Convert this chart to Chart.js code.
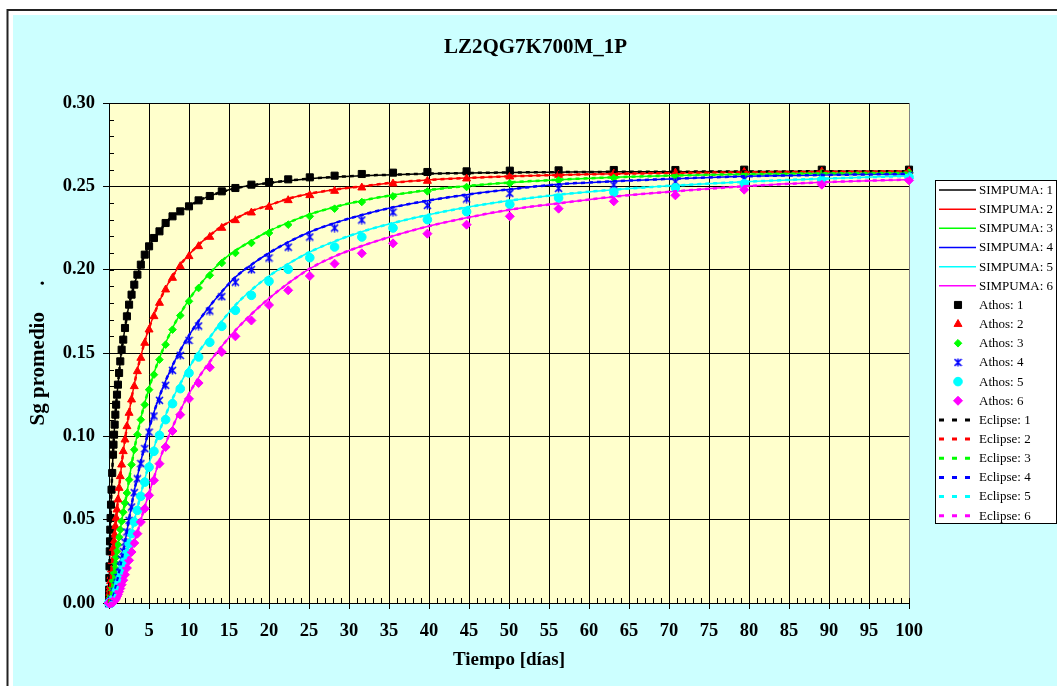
<!DOCTYPE html>
<html>
<head>
<meta charset="utf-8">
<title>LZ2QG7K700M_1P</title>
<script src="https://cdn.jsdelivr.net/npm/chart.js@4.4.1/dist/chart.umd.min.js"></script>
<style>
  html, body { margin: 0; padding: 0; background: #fff; }
  #wrap { position: relative; width: 1057px; height: 686px; }
</style>
</head>
<body>
<div id="wrap"><canvas id="chart"></canvas></div>
<script>
// Tiempo [días] - same sampling for every series
const tiempo = [0, 0.01, 0.02, 0.04, 0.063, 0.1, 0.126, 0.158, 0.2, 0.251, 0.316, 0.398, 0.501,
  0.562, 0.631, 0.708, 0.794, 0.891, 1, 1.12, 1.26, 1.41, 1.58, 1.78, 2,
  2.24, 2.51, 2.82, 3.16, 3.55, 3.98, 4.47, 5.01, 5.62, 6.31, 7.08, 7.94, 8.91, 10,
  11.2, 12.6, 14.1, 15.8, 17.8, 20, 22.4, 25.1, 28.2, 31.6, 35.5, 39.8, 44.7, 50.1, 56.2, 63.1, 70.8, 79.4, 89.1, 100];

// SIMPUMA (solid lines)
const simpuma1 = [0, 0.004, 0.008, 0.015, 0.022, 0.031, 0.037, 0.044, 0.051, 0.059, 0.068, 0.078, 0.089,
  0.095, 0.101, 0.107, 0.113, 0.119, 0.125, 0.131, 0.138, 0.145, 0.152, 0.158, 0.165,
  0.172, 0.179, 0.185, 0.191, 0.197, 0.203, 0.209, 0.214, 0.219, 0.223, 0.228, 0.232, 0.235, 0.238,
  0.2414, 0.2442, 0.2466, 0.2488, 0.2506, 0.252, 0.2534, 0.2546, 0.2556, 0.2564, 0.257, 0.2576, 0.258, 0.2583, 0.2585, 0.2587, 0.2588, 0.2589, 0.259, 0.259];
const simpuma2 = [0, 0.0003, 0.0008, 0.002, 0.0035, 0.006, 0.008, 0.01, 0.013, 0.016, 0.02, 0.025, 0.03,
  0.033, 0.037, 0.041, 0.046, 0.051, 0.056, 0.062, 0.069, 0.076, 0.083, 0.091, 0.098,
  0.106, 0.114, 0.123, 0.131, 0.14, 0.148, 0.157, 0.165, 0.173, 0.181, 0.189, 0.196, 0.203, 0.209,
  0.215, 0.2206, 0.226, 0.2306, 0.2352, 0.2386, 0.2426, 0.2456, 0.248, 0.25, 0.2522, 0.2538, 0.255, 0.256, 0.2568, 0.2575, 0.258, 0.2584, 0.2587, 0.2589];
const simpuma3 = [0, 0.00005, 0.0001, 0.0003, 0.0006, 0.0012, 0.0017, 0.0024, 0.0034, 0.0048, 0.0068, 0.0095, 0.0132,
  0.0155, 0.018, 0.021, 0.024, 0.0275, 0.031, 0.035, 0.0395, 0.044, 0.049, 0.0545, 0.06,
  0.066, 0.074, 0.083, 0.092, 0.1015, 0.1108, 0.12, 0.129, 0.138, 0.147, 0.156, 0.165, 0.1735, 0.182,
  0.19, 0.1978, 0.2052, 0.2114, 0.2173, 0.2232, 0.2282, 0.2332, 0.2376, 0.2414, 0.2448, 0.2477, 0.2502, 0.2523, 0.254, 0.2554, 0.2565, 0.2573, 0.2578, 0.2581];
const simpuma4 = [0, 0, 0, 0.00005, 0.0001, 0.0002, 0.0003, 0.0004, 0.0006, 0.001, 0.0015, 0.0024, 0.0037,
  0.0046, 0.0057, 0.007, 0.0086, 0.0105, 0.0127, 0.0153, 0.0184, 0.022, 0.0262, 0.031, 0.0365,
  0.0432, 0.0504, 0.0586, 0.0673, 0.0758, 0.085, 0.0942, 0.1045, 0.1144, 0.124, 0.1333, 0.1425, 0.1516, 0.1606,
  0.1692, 0.1782, 0.1868, 0.1955, 0.203, 0.21, 0.2165, 0.2226, 0.228, 0.2328, 0.2374, 0.2414, 0.245, 0.2482, 0.2512, 0.253, 0.2546, 0.256, 0.2568, 0.2574];
const simpuma5 = [0, 0, 0, 0, 0, 0, 0.0001, 0.0001, 0.0002, 0.0004, 0.0006, 0.0011, 0.0019,
  0.0025, 0.0032, 0.0041, 0.0052, 0.0065, 0.0081, 0.01, 0.0123, 0.015, 0.018, 0.0215, 0.0255,
  0.0305, 0.0363, 0.0425, 0.0496, 0.0568, 0.0655, 0.0742, 0.0835, 0.0932, 0.1031, 0.1127, 0.1225, 0.1316, 0.141,
  0.1506, 0.1594, 0.169, 0.1787, 0.1878, 0.1962, 0.2035, 0.2106, 0.217, 0.2228, 0.228, 0.2328, 0.2374, 0.2415, 0.245, 0.248, 0.2505, 0.2527, 0.2546, 0.2562];
const simpuma6 = [0, 0, 0, 0, 0, 0, 0, 0, 0, 0.0001, 0.0002, 0.0003, 0.0006,
  0.0008, 0.0012, 0.0016, 0.0022, 0.003, 0.004, 0.0052, 0.0068, 0.0087, 0.011, 0.0137, 0.017,
  0.021, 0.0258, 0.031, 0.0365, 0.0424, 0.0496, 0.0578, 0.0658, 0.0752, 0.0856, 0.0956, 0.1055, 0.1156, 0.1255,
  0.1352, 0.1448, 0.1541, 0.1636, 0.1733, 0.1828, 0.1918, 0.2006, 0.208, 0.2142, 0.2202, 0.2259, 0.2311, 0.236, 0.2398, 0.2438, 0.247, 0.25, 0.2524, 0.2541];

// Athos (markers)
const athos1 = [0, 0.004, 0.008, 0.015, 0.022, 0.031, 0.037, 0.044, 0.051, 0.059, 0.068, 0.078, 0.089,
  0.095, 0.101, 0.107, 0.113, 0.119, 0.125, 0.131, 0.138, 0.145, 0.152, 0.158, 0.165,
  0.172, 0.179, 0.185, 0.191, 0.197, 0.203, 0.209, 0.214, 0.219, 0.223, 0.228, 0.232, 0.235, 0.238,
  0.2416, 0.2442, 0.247, 0.249, 0.251, 0.2526, 0.2542, 0.2554, 0.2564, 0.2574, 0.2582, 0.2586, 0.259, 0.2594, 0.2596, 0.2598, 0.2598, 0.26, 0.26, 0.26];
const athos2 = [0, 0.0003, 0.0008, 0.002, 0.0035, 0.006, 0.008, 0.01, 0.013, 0.016, 0.02, 0.025, 0.03,
  0.033, 0.037, 0.041, 0.046, 0.051, 0.056, 0.062, 0.069, 0.076, 0.083, 0.091, 0.098,
  0.106, 0.114, 0.122, 0.13, 0.139, 0.147, 0.156, 0.164, 0.172, 0.18, 0.188, 0.195, 0.202, 0.208,
  0.214, 0.2196, 0.225, 0.2296, 0.2342, 0.2376, 0.2416, 0.2446, 0.2472, 0.2492, 0.2516, 0.2532, 0.2546, 0.2558, 0.2568, 0.2576, 0.2582, 0.2586, 0.2588, 0.259];
const athos3 = [0, 0.00005, 0.0001, 0.0003, 0.0006, 0.0012, 0.0017, 0.0024, 0.0034, 0.0048, 0.0068, 0.0095, 0.0132,
  0.0155, 0.018, 0.021, 0.024, 0.0275, 0.031, 0.035, 0.0395, 0.044, 0.049, 0.0545, 0.06,
  0.066, 0.074, 0.083, 0.092, 0.101, 0.11, 0.119, 0.128, 0.137, 0.146, 0.155, 0.164, 0.1725, 0.181,
  0.189, 0.1966, 0.204, 0.21, 0.216, 0.222, 0.227, 0.232, 0.2366, 0.2406, 0.244, 0.247, 0.2496, 0.2518, 0.2536, 0.255, 0.2562, 0.2572, 0.2578, 0.2582];
const athos4 = [0, 0, 0, 0.00005, 0.0001, 0.0002, 0.0003, 0.0004, 0.0006, 0.001, 0.0015, 0.0024, 0.0037,
  0.0046, 0.0057, 0.007, 0.0086, 0.0105, 0.0127, 0.0153, 0.0184, 0.022, 0.0262, 0.031, 0.0365,
  0.0426, 0.0496, 0.0576, 0.0662, 0.0745, 0.0836, 0.0926, 0.1025, 0.1122, 0.1216, 0.1306, 0.1396, 0.1486, 0.1576,
  0.1662, 0.1752, 0.1838, 0.1925, 0.2, 0.207, 0.2135, 0.2196, 0.225, 0.2298, 0.2345, 0.2386, 0.2424, 0.2458, 0.2488, 0.2508, 0.2526, 0.2542, 0.2555, 0.2565];
const athos5 = [0, 0, 0, 0, 0, 0, 0.0001, 0.0001, 0.0002, 0.0004, 0.0006, 0.0011, 0.0019,
  0.0025, 0.0032, 0.0041, 0.0052, 0.0065, 0.0081, 0.01, 0.0123, 0.015, 0.018, 0.0215, 0.0255,
  0.03, 0.0356, 0.0416, 0.0486, 0.0556, 0.064, 0.0725, 0.0815, 0.091, 0.1006, 0.11, 0.1196, 0.1286, 0.138,
  0.1476, 0.1564, 0.166, 0.1756, 0.1846, 0.193, 0.2002, 0.2072, 0.2136, 0.2196, 0.225, 0.23, 0.2348, 0.2392, 0.243, 0.2465, 0.2492, 0.2516, 0.2538, 0.2556];
const athos6 = [0, 0, 0, 0, 0, 0, 0, 0, 0, 0.0001, 0.0002, 0.0003, 0.0006,
  0.0008, 0.0012, 0.0016, 0.0022, 0.003, 0.004, 0.0052, 0.0068, 0.0087, 0.011, 0.0137, 0.017,
  0.021, 0.0256, 0.0306, 0.036, 0.0416, 0.0486, 0.0566, 0.0646, 0.0736, 0.0836, 0.0936, 0.1032, 0.113, 0.1225,
  0.132, 0.1414, 0.1506, 0.16, 0.1695, 0.1788, 0.1876, 0.1962, 0.2036, 0.2098, 0.2158, 0.2216, 0.227, 0.232, 0.2366, 0.241, 0.2446, 0.248, 0.251, 0.2536];

// Eclipse (dashed) sits right on top of SIMPUMA in the picture
const eclipse1 = simpuma1.slice();
const eclipse2 = simpuma2.slice();
const eclipse3 = simpuma3.slice();
const eclipse4 = simpuma4.slice();
const eclipse5 = simpuma5.slice();
const eclipse6 = simpuma6.slice();

const yTicks = [0, 0.05, 0.10, 0.15, 0.20, 0.25, 0.30];

const colores = ['#000000', '#ff0000', '#00ff00', '#0000ff', '#00ffff', '#ff00ff'];
const FONT = 'Liberation Serif';

// asterisk-like marker for Athos 4
function starMarker(color) {
  const c = document.createElement('canvas');
  c.width = 9; c.height = 9;
  const g = c.getContext('2d');
  g.strokeStyle = color;
  g.lineWidth = 1.6;
  g.beginPath();
  g.moveTo(1, 1); g.lineTo(8, 8);
  g.moveTo(8, 1); g.lineTo(1, 8);
  g.moveTo(4.5, 0.5); g.lineTo(4.5, 8.5);
  g.stroke();
  return c;
}

const marcadores = [
  { style: 'rect', radius: 5 },
  { style: 'triangle', radius: 4.6 },
  { style: 'rectRot', radius: 3.8 },
  { style: starMarker('#0000ff'), radius: 4.5 },
  { style: 'circle', radius: 4.3 },
  { style: 'rectRot', radius: 4.5 }
];

function puntos(ys) {
  return tiempo.map((t, i) => ({ x: t, y: ys[i] }));
}

const datasets = [];
[simpuma1, simpuma2, simpuma3, simpuma4, simpuma5, simpuma6].forEach((ys, k) => {
  datasets.push({
    label: 'SIMPUMA: ' + (k + 1), kind: 'sim', data: puntos(ys),
    showLine: true, pointRadius: 0, borderColor: colores[k], backgroundColor: colores[k],
    borderWidth: 1.5, cubicInterpolationMode: 'monotone', clip: false
  });
});
[athos1, athos2, athos3, athos4, athos5, athos6].forEach((ys, k) => {
  datasets.push({
    label: 'Athos: ' + (k + 1), kind: 'athos', data: puntos(ys),
    showLine: false, pointStyle: marcadores[k].style, pointRadius: marcadores[k].radius,
    borderColor: colores[k], backgroundColor: colores[k], borderWidth: 1, clip: false
  });
});
[eclipse1, eclipse2, eclipse3, eclipse4, eclipse5, eclipse6].forEach((ys, k) => {
  datasets.push({
    label: 'Eclipse: ' + (k + 1), kind: 'ecl', data: puntos(ys),
    showLine: true, pointRadius: 0, borderColor: colores[k], backgroundColor: colores[k],
    borderWidth: 2.5, borderDash: [4, 4], cubicInterpolationMode: 'monotone', clip: false
  });
});
// later series on top, like the original spreadsheet
datasets.forEach((d, i) => { d.order = -i; });

// page frame + plot background
const fondo = {
  id: 'fondo',
  beforeDraw(chart) {
    const { ctx, width, height, chartArea: a } = chart;
    ctx.save();
    ctx.fillStyle = '#ffffff';
    ctx.fillRect(0, 0, width, height);
    ctx.fillStyle = '#ccffff';
    ctx.fillRect(13, 15, width - 13, height - 15);
    ctx.strokeStyle = '#222222';
    ctx.lineWidth = 2;
    ctx.beginPath();
    ctx.moveTo(7.5, height);
    ctx.lineTo(7.5, 10);
    ctx.lineTo(width, 10);
    ctx.stroke();
    ctx.fillStyle = '#ffffcc';
    ctx.fillRect(a.left, a.top, a.right - a.left, a.bottom - a.top);
    ctx.restore();
  }
};

// small inside ticks: every day on x, every 0.01 on y
const minorTicks = {
  id: 'minorTicks',
  beforeDatasetsDraw(chart) {
    const { ctx, chartArea: a, scales: { x, y } } = chart;
    ctx.save();
    ctx.strokeStyle = '#000';
    ctx.lineWidth = 1;
    ctx.beginPath();
    for (let v = 0; v <= 100; v++) {
      const px = Math.round(x.getPixelForValue(v)) + 0.5;
      ctx.moveTo(px, a.bottom);
      ctx.lineTo(px, a.bottom - 5);
    }
    for (let k = 0; k <= 30; k++) {
      const py = Math.round(y.getPixelForValue(k / 100)) + 0.5;
      ctx.moveTo(a.left, py);
      ctx.lineTo(a.left + 5, py);
    }
    ctx.stroke();
    ctx.restore();
  }
};

// boxed legend on the right
const leyenda = {
  id: 'leyenda',
  afterDraw(chart) {
    const { ctx } = chart;
    const box = { left: 935.5, top: 180.5, right: 1056.5, bottom: 523.5 };
    const y0 = 190, step = 19.16;
    ctx.save();
    ctx.fillStyle = '#ffffff';
    ctx.fillRect(box.left, box.top, box.right - box.left, box.bottom - box.top);
    ctx.strokeStyle = '#000000';
    ctx.lineWidth = 1;
    ctx.strokeRect(box.left, box.top, box.right - box.left, box.bottom - box.top);
    ctx.font = '13px "' + FONT + '"';
    ctx.textBaseline = 'middle';
    ctx.textAlign = 'left';
    chart.data.datasets.forEach((d, i) => {
      const y = y0 + i * step;
      ctx.save();
      ctx.strokeStyle = d.borderColor;
      ctx.fillStyle = d.backgroundColor;
      if (d.kind === 'athos') {
        ctx.lineWidth = 1;
        Chart.helpers.drawPoint(ctx, { pointStyle: d.pointStyle, radius: d.pointRadius, rotation: 0, borderWidth: 1 }, 958, y);
      } else {
        ctx.lineWidth = d.kind === 'ecl' ? 3 : 1.5;
        ctx.setLineDash(d.kind === 'ecl' ? [5, 8] : []);
        ctx.beginPath();
        ctx.moveTo(939, y);
        ctx.lineTo(976, y);
        ctx.stroke();
      }
      ctx.restore();
      ctx.fillStyle = '#000000';
      ctx.fillText(d.label, 979, y + 0.5);
    });
    ctx.restore();
  }
};

const tickFont = { family: FONT, size: 18.5, weight: 'bold' };

new Chart(document.getElementById('chart'), {
  type: 'scatter',
  data: { datasets: datasets },
  options: {
    responsive: true,
    maintainAspectRatio: false,
    animation: false,
    events: [],
    layout: { padding: { left: 14, right: 0, top: 0, bottom: 0 } },
    plugins: {
      legend: { display: false },
      tooltip: { enabled: false },
      title: {
        display: true,
        text: 'LZ2QG7K700M_1P',
        color: '#000',
        font: { family: FONT, size: 21, weight: 'bold' },
        padding: { top: 35.4, bottom: 42.4 }
      }
    },
    scales: {
      x: {
        type: 'linear',
        min: 0, max: 100,
        afterFit(s) { s.height = 83; },
        grid: {
          color: (c) => (c.tick && c.tick.value === 100 ? '#808080' : '#000000'),
          lineWidth: 1,
          tickLength: 6,
          tickColor: '#000000'
        },
        border: { color: '#000000', width: 1 },
        ticks: { stepSize: 5, autoSkip: false, maxRotation: 0, color: '#000', font: tickFont, padding: 11 },
        title: {
          display: true,
          text: 'Tiempo [días]',
          color: '#000',
          font: { family: FONT, size: 19, weight: 'bold' },
          padding: { top: 0, bottom: 15 }
        }
      },
      y: {
        type: 'linear',
        min: 0, max: 0.3,
        afterFit(s) { s.width = 95; },
        afterBuildTicks(s) { s.ticks = yTicks.map(v => ({ value: v })); },
        grid: { color: '#000000', lineWidth: 1, tickLength: 6, tickColor: '#000000' },
        border: { color: '#000000', width: 1 },
        ticks: { color: '#000', font: tickFont, padding: 8, callback: (v) => Number(v).toFixed(2) },
        title: {
          display: true,
          text: 'Sg promedio     .',
          color: '#000',
          font: { family: FONT, size: 21, weight: 'bold' },
          padding: { top: 12.4, bottom: 0 }
        }
      },
      // spacer that keeps room for the legend on the right
      y2: {
        type: 'linear',
        position: 'right',
        display: true,
        afterFit(s) { s.width = 148; },
        grid: { display: false, drawTicks: false },
        border: { display: false },
        ticks: { display: false }
      }
    }
  },
  plugins: [fondo, minorTicks, leyenda]
});
</script>
</body>
</html>
